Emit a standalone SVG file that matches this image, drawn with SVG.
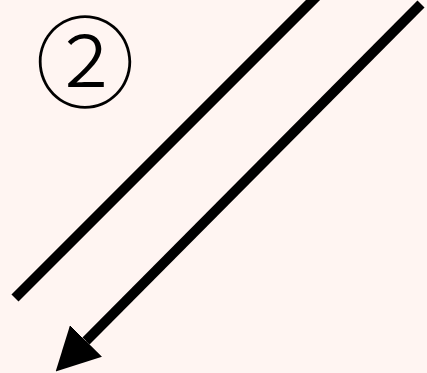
<svg xmlns="http://www.w3.org/2000/svg" width="427" height="373" viewBox="0 0 427 373">
<defs>
<style>
.ln{stroke:#000;stroke-width:10;fill:none;stroke-linecap:butt}
.lbl{font-family:"Noto Sans CJK JP","Noto Sans CJK SC",sans-serif;font-weight:300;font-size:100px;fill:#000}
</style>
<marker id="ah" viewBox="0 0 43 45" refX="0" refY="22.5" markerWidth="43" markerHeight="45" markerUnits="userSpaceOnUse" orient="auto">
<path d="M0,0 L43,22.5 L0,45 Z" fill="#000"/>
</marker>
</defs>
<rect width="427" height="373" fill="#FFF5F2"/>
<g id="label">
<text class="lbl" x="85" y="56" text-anchor="middle" dominant-baseline="central">②</text>
</g>
<g id="connectors">
<line class="ln" x1="15" y1="298" x2="325" y2="-12"/>
<line class="ln" x1="421" y1="4" x2="86" y2="341" marker-end="url(#ah)"/>
</g>
</svg>
